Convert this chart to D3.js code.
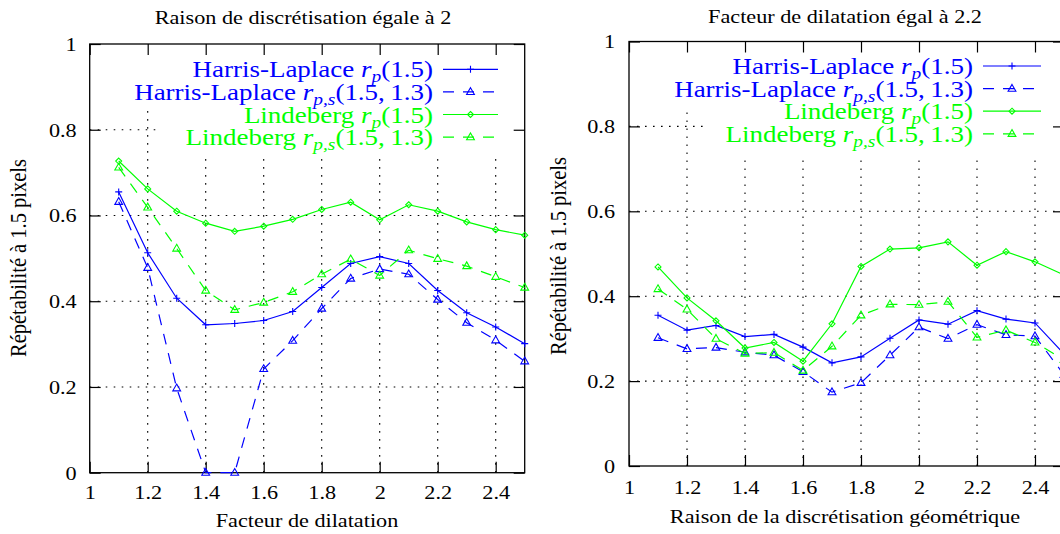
<!DOCTYPE html>
<html><head><meta charset="utf-8">
<script src="https://cdn.jsdelivr.net/npm/d3@7"></script>
<style>
body{margin:0;background:#fff}
svg{display:block;font-family:"Liberation Serif","Times New Roman",serif}
svg text{font-family:"Liberation Serif","Times New Roman",serif}
</style>
</head><body>
<svg id="chart" width="1060" height="534" font-family="Liberation Serif"></svg>
<script>
// ---------- data ----------
const xValues = [1.1,1.2,1.3,1.4,1.5,1.6,1.7,1.8,1.9,2.0,2.1,2.2,2.3,2.4,2.5];

const leftHarrisRp     = [0.655,0.513,0.407,0.345,0.348,0.355,0.376,0.432,0.488,0.504,0.488,0.425,0.373,0.340,0.301];
const leftHarrisRps    = [0.632,0.478,0.197,0.000,0.000,0.242,0.308,0.383,0.453,0.475,0.463,0.404,0.350,0.309,0.260];
const leftLindebergRp  = [0.727,0.662,0.610,0.582,0.563,0.575,0.591,0.614,0.631,0.590,0.625,0.610,0.585,0.567,0.554];
const leftLindebergRps = [0.712,0.619,0.523,0.425,0.380,0.397,0.422,0.463,0.498,0.460,0.519,0.499,0.482,0.457,0.432];

const rightHarrisRp     = [0.355,0.320,0.331,0.305,0.310,0.280,0.243,0.257,0.301,0.344,0.334,0.366,0.346,0.337,0.264];
const rightHarrisRps    = [0.302,0.276,0.279,0.268,0.261,0.222,0.174,0.196,0.261,0.327,0.300,0.333,0.309,0.306,0.215];
const rightLindebergRp  = [0.469,0.396,0.342,0.278,0.291,0.247,0.335,0.470,0.511,0.514,0.528,0.473,0.505,0.481,0.450];
const rightLindebergRps = [0.417,0.369,0.300,0.265,0.267,0.225,0.282,0.355,0.381,0.380,0.387,0.303,0.320,0.291,0.250];

const xTickValues = [1,1.2,1.4,1.6,1.8,2,2.2,2.4];
const yTickValues = [0,0.2,0.4,0.6,0.8,1];
const xGridValues = [1.2,1.4,1.6,1.8,2,2.2,2.4];
const yGridValues = [0.2,0.4,0.6,0.8];

const legendNames = ["Harris-Laplace","Harris-Laplace","Lindeberg","Lindeberg"];
const legendSubs  = ["p","p,s","p","p,s"];
const legendArgs  = ["(1.5)","(1.5,\u20091.3)","(1.5)","(1.5,\u20091.3)"];

const leftTitle  = "Raison de discrétisation égale à 2";
const rightTitle = "Facteur de dilatation égal à 2.2";
const leftXLabel  = "Facteur de dilatation";
const rightXLabel = "Raison de la discrétisation géométrique";
const yLabelText  = "Répétabilité à 1.5 pixels";

// ---------- styles ----------
const FONT = "Liberation Serif";
const BLUE = "#0000ff", GREEN = "#00ff00";
const seriesStyle = [
  {color: BLUE,  dash: null,    marker: "plus"},
  {color: BLUE,  dash: "11,9",  marker: "tri"},
  {color: GREEN, dash: null,    marker: "diamond"},
  {color: GREEN, dash: "11,9",  marker: "tri"}
];
const markerPath = {
  plus: "M-3.5,0H3.5M0,-3.5V3.5",
  tri: "M0,-4.2L3.9,2.6L-3.9,2.6Z",
  diamond: "M0,-3L3,0L0,3L-3,0Z"
};
const SX = 1.17;  // horizontal text stretch of the original rendering
const svg = d3.select("#chart");

function drawPanel(cfg) {
  const x = d3.scaleLinear().domain([1, 2.5]).range([cfg.left, cfg.right]);
  const y = d3.scaleLinear().domain([0, 1]).range([cfg.bottom, cfg.top]);
  const g = svg.append("g").attr("font-family", FONT);
  const h = cfg.bottom - cfg.top, w = cfg.right - cfg.left;

  // grid
  const grid = g.append("g").attr("stroke", "#000").attr("stroke-width", 1.1).attr("stroke-dasharray", "1.6,6.4");
  grid.selectAll("line.v").data(xGridValues).join("line")
    .attr("x1", d => x(d)).attr("x2", d => x(d)).attr("y1", cfg.bottom).attr("y2", cfg.top);
  grid.selectAll("line.h").data(yGridValues).join("line")
    .attr("x1", cfg.left).attr("x2", cfg.right).attr("y1", d => y(d)).attr("y2", d => y(d));

  // key area masks the grid
  g.append("rect").attr("x", cfg.maskA).attr("y", cfg.top + 1).attr("width", cfg.right - cfg.maskA).attr("height", cfg.maskABottom - cfg.top - 1).attr("fill", "#fff");
  g.append("rect").attr("x", cfg.maskB).attr("y", cfg.top + 1).attr("width", cfg.maskA - cfg.maskB).attr("height", cfg.maskBBottom - cfg.top - 1).attr("fill", "#fff");

  // axes: ticks inside on all sides
  const tickLen = 11;
  const axB = g.append("g").attr("transform", `translate(0,${cfg.bottom})`)
    .call(d3.axisBottom(x).tickValues(xTickValues).tickSizeInner(-tickLen).tickSizeOuter(0).tickFormat(d => String(d)));
  const axT = g.append("g").attr("transform", `translate(0,${cfg.top})`)
    .call(d3.axisTop(x).tickValues(xTickValues).tickSizeInner(-tickLen).tickSizeOuter(0).tickFormat(""));
  const axL = g.append("g").attr("transform", `translate(${cfg.left},0)`)
    .call(d3.axisLeft(y).tickValues(yTickValues).tickSizeInner(-tickLen).tickSizeOuter(0).tickFormat(d => String(d)));
  const axR = g.append("g").attr("transform", `translate(${cfg.right},0)`)
    .call(d3.axisRight(y).tickValues(yTickValues).tickSizeInner(-tickLen).tickSizeOuter(0).tickFormat(""));
  [axB, axT, axL, axR].forEach(a => {
    a.attr("font-family", FONT).attr("font-size", 19);
    a.select(".domain").remove();
    a.selectAll(".tick line").attr("stroke", "#000").attr("stroke-width", 1.2);
    a.selectAll("text").attr("font-family", FONT).attr("font-size", 19).attr("fill", "#000");
  });
  axB.selectAll(".tick text").attr("y", cfg.xTickY).attr("dy", "0.35em").attr("transform", `scale(${SX},1)`);
  axL.selectAll(".tick text").attr("x", -cfg.yLabelGap / SX).attr("dy", "0.34em").attr("text-anchor", "end").attr("transform", `scale(${SX},1)`);

  // frame
  g.append("rect").attr("x", cfg.left).attr("y", cfg.top).attr("width", w).attr("height", h)
    .attr("fill", "none").attr("stroke", "#000").attr("stroke-width", 1.3);

  // series
  const line = d3.line().x(d => x(d[0])).y(d => y(d[1]));
  cfg.series.forEach((vals, i) => {
    const st = seriesStyle[i];
    const pts = xValues.map((xv, j) => [xv, vals[j]]);
    g.append("path").datum(pts).attr("d", line).attr("fill", "none")
      .attr("stroke", st.color).attr("stroke-width", 1.2)
      .attr("stroke-dasharray", st.dash);
    g.selectAll(null).data(pts).join("path")
      .attr("transform", d => `translate(${x(d[0])},${y(d[1])})`)
      .attr("d", markerPath[st.marker]).attr("fill", "none")
      .attr("stroke", st.color).attr("stroke-width", 1.1);
  });

  // legend
  cfg.series.forEach((vals, i) => {
    const st = seriesStyle[i];
    const by = cfg.legendBase + i * cfg.legendStep;
    const t = g.append("text")
      .attr("transform", `translate(${cfg.legendTextRight},${by}) scale(${cfg.legendSX},1)`)
      .attr("text-anchor", "end").attr("font-family", FONT).attr("font-size", cfg.legendFont).attr("fill", st.color);
    t.append("tspan").text(legendNames[i] + " ");
    t.append("tspan").attr("font-style", "italic").text("r");
    t.append("tspan").attr("font-style", "italic").attr("font-size", cfg.legendFont * 0.72).attr("dy", 5).text(legendSubs[i]);
    t.append("tspan").attr("dy", -5).text(legendArgs[i]);
    const ly = by - 8;
    g.append("line").attr("x1", cfg.sampleX0).attr("x2", cfg.sampleX1).attr("y1", ly).attr("y2", ly)
      .attr("stroke", st.color).attr("stroke-width", 1.2).attr("stroke-dasharray", st.dash);
    g.append("path").attr("transform", `translate(${(cfg.sampleX0 + cfg.sampleX1) / 2},${ly})`)
      .attr("d", markerPath[st.marker]).attr("fill", "none").attr("stroke", st.color).attr("stroke-width", 1.1);
  });

  // titles
  g.append("text").attr("transform", `translate(${cfg.titleX},${cfg.titleY}) scale(${SX},1)`)
    .attr("text-anchor", "middle").attr("font-family", FONT).attr("font-size", cfg.titleFont).text(cfg.title);
  g.append("text").attr("transform", `translate(${cfg.xLabelX},${cfg.xLabelY}) scale(${SX},1)`)
    .attr("text-anchor", "middle").attr("font-family", FONT).attr("font-size", 19).text(cfg.xLabel);
  g.append("text").attr("transform", `translate(${cfg.yLabelX},${cfg.yLabelY}) rotate(-90) scale(1,${SX})`)
    .attr("text-anchor", "middle").attr("font-family", FONT).attr("font-size", 20.5).text(yLabelText);
}

drawPanel({
  left: 89.7, right: 524.7, top: 44, bottom: 472.7,
  series: [leftHarrisRp, leftHarrisRps, leftLindebergRp, leftLindebergRps],
  maskA: 157, maskABottom: 157, maskB: 130, maskBBottom: 105,
  xTickY: 20, yLabelGap: 13,
  legendTextRight: 433, legendBase: 77.3, legendStep: 22.6, legendFont: 22.5, legendSX: 1.2,
  sampleX0: 443, sampleX1: 498,
  title: leftTitle, titleX: 303, titleY: 24, titleFont: 19,
  xLabel: leftXLabel, xLabelX: 307, xLabelY: 527,
  yLabelX: 26, yLabelY: 258
});
drawPanel({
  left: 629, right: 1064, top: 41.5, bottom: 466,
  series: [rightHarrisRp, rightHarrisRps, rightLindebergRp, rightLindebergRps],
  maskA: 707, maskABottom: 157, maskB: 680, maskBBottom: 112,
  xTickY: 21, yLabelGap: 14,
  legendTextRight: 973, legendBase: 74, legendStep: 22.6, legendFont: 22.5, legendSX: 1.2,
  sampleX0: 983, sampleX1: 1041,
  title: rightTitle, titleX: 845, titleY: 23, titleFont: 19,
  xLabel: rightXLabel, xLabelX: 845, xLabelY: 523,
  yLabelX: 566, yLabelY: 256
});
</script>
</body></html>
